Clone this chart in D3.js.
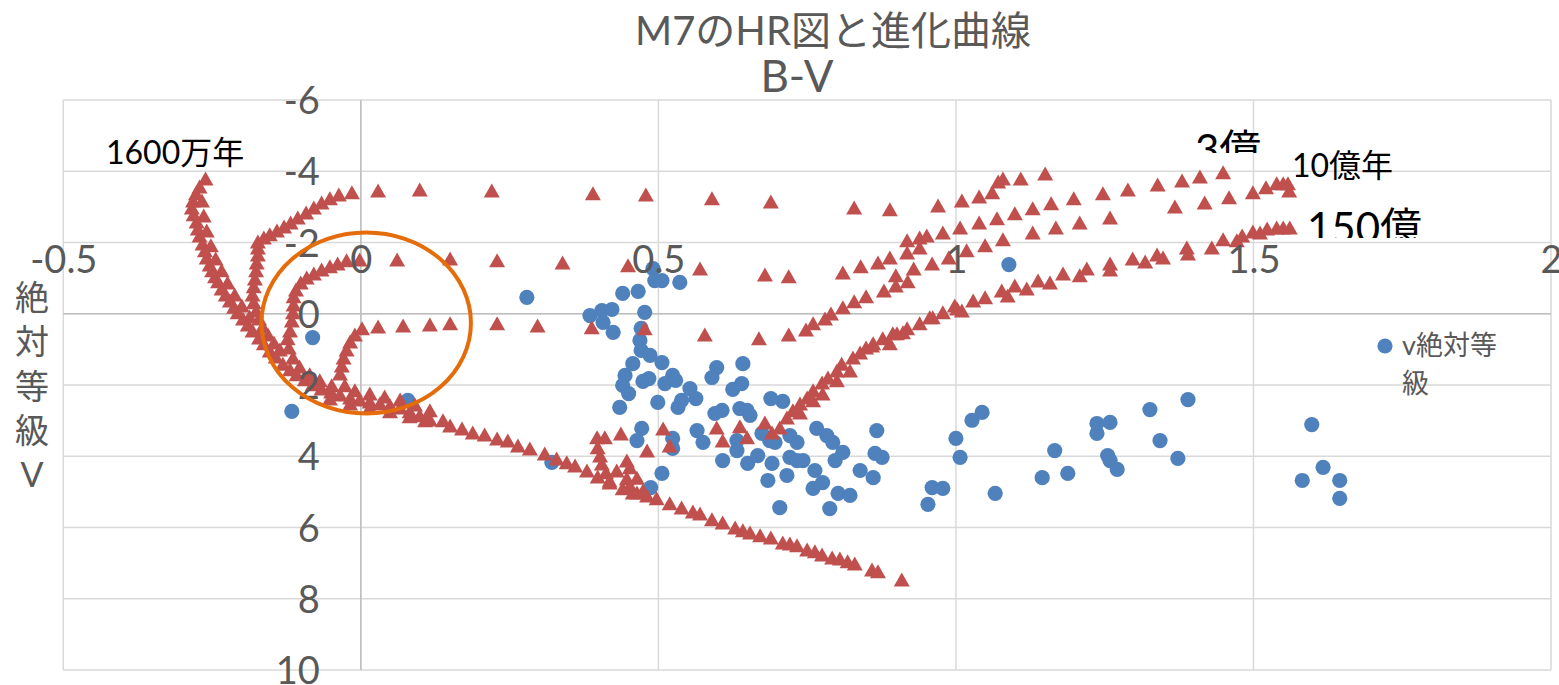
<!DOCTYPE html>
<html lang="ja">
<head>
<meta charset="utf-8">
<title>M7のHR図と進化曲線</title>
<script src="https://cdn.jsdelivr.net/npm/d3@7"></script>
<style>
  html, body { margin: 0; padding: 0; background: #ffffff; }
  svg { display: block; }
</style>
</head>
<body>
<svg id="chart" width="1559" height="685"></svg>
<script>
// ---- text ----
const titleText = "M7のHR図と進化曲線";
const xAxisTitle = "B-V";
const yAxisTitleChars = ["絶", "対", "等", "級", "V"];
const legendLines = ["v絶対等", "級"];
const ageLabels = ["1600万年", "3億", "10億年", "150億"];

// ---- axis ticks ----
const xTicks = [-0.5, 0, 0.5, 1, 1.5, 2];
const yTicks = [-6, -4, -2, 0, 2, 4, 6, 8, 10];

// ---- observed stars of M7: [B-V, absolute V magnitude] ----
const observed = [
  [-0.081,0.67],[-0.116,2.74],[0.079,2.43],[0.279,-0.46],[0.321,4.17],
  [0.385,0.05],[0.405,-0.09],[0.422,-0.12],[0.407,0.24],[0.424,0.52],
  [0.440,-0.57],[0.466,-0.63],[0.491,-1.27],[0.494,-0.93],[0.506,-0.93],[0.536,-0.88],
  [0.477,-0.04],[0.471,0.41],[0.469,0.75],[0.471,1.03],[0.486,1.17],[0.506,1.37],
  [0.457,1.40],[0.444,1.73],[0.440,2.01],[0.450,2.24],[0.474,1.90],[0.484,1.82],
  [0.511,1.96],[0.524,1.73],[0.529,1.87],[0.553,2.10],[0.563,2.38],[0.499,2.49],
  [0.435,2.63],[0.533,2.63],[0.539,2.43],[0.472,3.22],[0.464,3.56],[0.524,3.50],
  [0.524,3.78],[0.565,3.28],[0.575,3.61],[0.506,4.48],[0.487,4.88],
  [0.598,1.51],[0.590,1.79],[0.642,1.40],[0.625,2.12],[0.640,1.96],
  [0.595,2.80],[0.607,2.71],[0.637,2.66],[0.649,2.71],[0.654,2.85],
  [0.632,3.56],[0.632,3.84],[0.608,4.12],[0.650,4.20],[0.667,3.98],[0.691,4.20],
  [0.684,4.68],[0.716,4.54],[0.674,3.36],[0.687,3.56],[0.696,3.61],[0.689,2.38],
  [0.709,2.46],[0.721,3.42],[0.733,3.61],[0.721,4.03],[0.733,4.12],[0.743,4.12],
  [0.766,3.22],[0.783,3.42],[0.793,3.61],[0.810,3.89],[0.797,4.12],[0.763,4.40],
  [0.776,4.74],[0.760,4.90],[0.802,5.04],[0.822,5.10],[0.788,5.47],[0.704,5.44],
  [0.839,4.40],[0.861,4.60],[0.864,3.92],[0.876,4.03],[0.867,3.28],
  [0.960,4.88],[0.978,4.90],[0.953,5.35],[1.000,3.50],[1.007,4.03],[1.027,2.99],
  [1.044,2.77],[1.066,5.04],[1.145,4.60],[1.188,4.48],[1.166,3.84],[1.237,3.08],
  [1.259,3.05],[1.237,3.36],[1.255,3.98],[1.259,4.12],[1.271,4.37],[1.326,2.69],
  [1.343,3.56],[1.373,4.06],[1.390,2.41],[1.598,3.11],[1.617,4.31],[1.582,4.68],
  [1.645,4.68],[1.645,5.18],[1.089,-1.38]
];

// ---- evolution tracks (isochrones): [B-V, absolute V magnitude] ----
const iso1600man = [
  [-0.261,-3.80],[-0.271,-3.57],[-0.277,-3.38],[-0.282,-3.18],[-0.284,-2.98],[-0.281,-2.79],
  [-0.276,-2.59],[-0.274,-2.39],[-0.271,-2.20],[-0.266,-1.97],[-0.262,-1.78],[-0.259,-1.58],
  [-0.254,-1.38],[-0.250,-1.22],[-0.245,-1.05],[-0.240,-0.91],[-0.234,-0.71],[-0.227,-0.54],
  [-0.220,-0.37],[-0.213,-0.20],[-0.207,-0.04],[-0.198,0.13],[-0.190,0.30],[-0.182,0.47],
  [-0.171,0.67],[-0.163,0.83],[-0.153,1.03],[-0.143,1.20],[-0.131,1.40],[-0.119,1.56],
  [-0.108,1.70],[-0.094,1.84],[-0.081,1.98],[-0.066,2.10],[-0.050,2.18],[-0.035,2.27],
  [-0.018,2.35],[-0.002,2.41],[0.015,2.46],[0.032,2.52],[0.049,2.57],[0.066,2.63],
  [0.082,2.74],[0.099,2.85],[0.116,2.97],[0.138,2.99],[0.150,3.14],[0.170,3.22],
  [0.188,3.33],[0.208,3.39],[0.229,3.50],[0.247,3.56],[0.264,3.70],[0.284,3.78],
  [0.309,3.92],[0.329,4.06],[0.346,4.17],[0.360,4.26],[0.380,4.40],[0.398,4.57],
  [0.418,4.74],[0.440,4.90],[0.464,5.02],[0.481,5.10],[0.497,5.18],[0.519,5.32],
  [0.539,5.44],[0.558,5.55],[0.570,5.61],[0.590,5.77],[0.608,5.86],[0.629,6.00],
  [0.642,6.08],[0.654,6.14],[0.671,6.22],[0.689,6.28],[0.709,6.42],[0.721,6.45],
  [0.733,6.50],[0.750,6.62],[0.763,6.67],[0.775,6.76],[0.792,6.84],[0.805,6.87],
  [0.818,6.95],[0.830,7.01],[0.859,7.18],[0.869,7.23],[0.909,7.46],
  [-0.267,-3.18],[-0.264,-2.76],[-0.259,-2.34],[-0.252,-1.92],[-0.244,-1.55],
  [-0.234,-1.22],[-0.224,-0.88],[-0.212,-0.54],[-0.200,-0.23],[-0.187,0.08],
  [-0.052,2.38],[-0.018,2.52],[0.015,2.63],[0.049,2.74],[0.082,2.88],[0.108,2.99]
];

const isoUpper = [
  [-0.173,-2.03],[-0.163,-2.14],[-0.153,-2.23],[-0.141,-2.34],[-0.129,-2.45],[-0.118,-2.56],
  [-0.106,-2.70],[-0.092,-2.84],[-0.079,-2.98],[-0.066,-3.12],[-0.052,-3.24],[-0.037,-3.35],
  [-0.015,-3.41],[0.029,-3.46],[0.099,-3.49],[0.220,-3.46],[0.390,-3.38],[0.479,-3.35],
  [0.590,-3.24],[0.689,-3.15],[0.829,-2.98],[0.889,-2.93],[0.970,-3.04],[1.010,-3.18],
  [1.039,-3.29],[1.061,-3.41],[1.071,-3.71],[1.079,-3.80],[1.109,-3.80],[1.150,-3.94],
  [-0.173,-1.86],[-0.173,-1.66],[-0.175,-1.44],[-0.176,-1.22],[-0.178,-0.99],[-0.180,-0.77],
  [-0.182,-0.54],[-0.180,-0.32],[-0.176,-0.09],[-0.171,0.13],[-0.165,0.36],[-0.156,0.58],
  [-0.146,0.81],[-0.136,1.00]
];

const iso3oku = [
  [-0.049,2.01],[-0.069,1.87],[-0.086,1.70],[-0.103,1.48],
  [-0.114,1.23],[-0.121,0.95],[-0.123,0.69],[-0.119,0.47],[-0.116,0.19],[-0.114,-0.04],
  [-0.113,-0.26],[-0.113,-0.49],[-0.109,-0.68],[-0.101,-0.88],[-0.091,-1.02],[-0.079,-1.13],
  [-0.066,-1.24],[-0.052,-1.33],[-0.039,-1.41],[-0.024,-1.50],[-0.002,-1.52],[0.061,-1.52],
  [0.150,-1.55],[0.229,-1.50],[0.339,-1.44],[0.449,-1.36],[0.570,-1.27],[0.679,-1.10],
  [0.719,-1.05],[0.810,-1.16],[0.840,-1.33],[0.869,-1.44],[0.889,-1.58],[0.918,-1.72],
  [0.918,-2.06],[0.939,-1.86],[0.939,-2.14],[0.951,-2.20],[0.978,-2.28],[1.007,-2.42],
  [1.039,-2.56],[1.069,-2.68],[1.099,-2.82],[1.129,-2.96],[1.160,-3.10],[1.198,-3.24],
  [1.247,-3.38],[1.289,-3.49],[1.339,-3.63],[1.380,-3.74],[1.410,-3.85],[1.449,-3.97]
];

const iso10oku = [
  [0.116,2.71],[0.091,2.55],[0.066,2.41],[0.040,2.32],[0.015,2.24],[-0.010,2.15],[-0.027,2.01],
  [-0.035,1.68],[-0.032,1.45],[-0.029,1.23],[-0.024,1.00],[-0.018,0.78],[-0.010,0.58],
  [0.002,0.41],[0.029,0.36],[0.071,0.33],[0.116,0.30],[0.150,0.27],[0.229,0.27],
  [0.297,0.33],[0.388,0.38],[0.477,0.41],[0.578,0.58],[0.669,0.69],[0.719,0.58],
  [0.748,0.44],[0.760,0.27],[0.780,0.13],[0.790,-0.01],[0.810,-0.18],[0.829,-0.35],
  [0.849,-0.49],[0.879,-0.65],[0.899,-0.79],[0.919,-0.91],[0.899,-1.08],[0.929,-1.27],
  [0.960,-1.41],[0.988,-1.58],[1.018,-1.78],[1.049,-1.92],[1.079,-2.09],[1.129,-2.28],
  [1.168,-2.42],[1.208,-2.56],[1.259,-2.70],[1.368,-3.01],[1.418,-3.12],[1.459,-3.27],
  [1.499,-3.41],[1.521,-3.55],[1.539,-3.66],[1.550,-3.66],[1.558,-3.66],[1.560,-3.46]
];

const iso150oku = [
  [0.397,3.47],[0.410,3.47],[0.398,3.75],[0.402,3.98],[0.405,4.20],[0.412,4.45],[0.418,4.68],
  [0.437,3.36],[0.430,4.40],[0.447,4.12],[0.452,4.31],[0.447,4.62],[0.452,4.82],[0.464,4.60],
  [0.457,5.02],[0.481,3.84],[0.474,4.96],[0.508,3.22],[0.519,3.70],
  [0.598,3.19],[0.608,3.56],[0.637,3.16],[0.649,3.47],[0.679,3.05],[0.691,3.33],[0.704,3.19],
  [0.716,2.91],[0.726,2.71],[0.738,2.52],[0.750,2.35],[0.760,2.15],[0.775,1.93],[0.785,1.79],
  [0.800,1.59],[0.808,1.40],[0.827,1.23],[0.839,1.09],[0.859,0.89],[0.877,0.69],[0.901,0.55],
  [0.918,0.41],[0.939,0.27],[0.956,0.10],[0.978,-0.04],[1.002,-0.15],
  [0.738,2.77],[0.760,2.43],[0.776,2.24],[0.800,1.87],[0.822,1.59],[0.849,0.95],[0.861,0.83],
  [0.889,0.83],[0.894,0.55],[0.911,0.52],[0.961,0.10],[0.998,-0.23],
  [1.010,-0.09],[1.029,-0.37],[1.049,-0.46],[1.077,-0.65],[1.087,-0.51],[1.099,-0.79],
  [1.119,-0.71],[1.138,-0.93],[1.158,-0.88],[1.180,-1.13],[1.208,-1.08],[1.220,-1.27],
  [1.259,-1.41],[1.259,-1.24],[1.297,-1.55],[1.318,-1.47],[1.338,-1.66],[1.348,-1.58],
  [1.388,-1.86],[1.390,-1.69],[1.430,-1.86],[1.449,-2.09],[1.472,-2.06],[1.481,-2.20],
  [1.499,-2.31],[1.511,-2.28],[1.523,-2.39],[1.539,-2.42],[1.550,-2.42],[1.561,-2.42]
];

// ---- layout & style ----
const FONT = "Lato, 'Noto Sans CJK JP', sans-serif";
const TEXT_GRAY = "#595959";
const BLUE = "#4f81bd";
const RED = "#c0504d";
const ORANGE = "#e46c0a";

const svg = d3.select("#chart");
const plot = { left: 63.3, right: 1551, top: 100, bottom: 670 };

const x = d3.scaleLinear().domain([-0.5, 2]).range([plot.left, plot.right]);
const y = d3.scaleLinear().domain([-6, 10]).range([plot.top, plot.bottom]);

// gridlines
const grid = svg.append("g").attr("stroke", "#d9d9d9").attr("stroke-width", 1.5);
grid.selectAll("line.v").data(xTicks).join("line").attr("class", "v")
  .attr("x1", d => x(d)).attr("x2", d => x(d))
  .attr("y1", plot.top).attr("y2", plot.bottom);
grid.selectAll("line.h").data(yTicks).join("line").attr("class", "h")
  .attr("x1", plot.left).attr("x2", plot.right)
  .attr("y1", d => y(d)).attr("y2", d => y(d));

// axis lines crossing at (0, 0)
const axisLines = svg.append("g").attr("stroke", "#bfbfbf").attr("stroke-width", 1.5);
axisLines.append("line")
  .attr("x1", plot.left).attr("x2", plot.right)
  .attr("y1", y(0)).attr("y2", y(0));
axisLines.append("line")
  .attr("x1", x(0)).attr("x2", x(0))
  .attr("y1", plot.top).attr("y2", plot.bottom);

// observed stars
svg.append("g").selectAll("circle").data(observed).join("circle")
  .attr("cx", d => x(d[0])).attr("cy", d => y(d[1]))
  .attr("r", 7.6).attr("fill", BLUE);

// isochrone triangles
const triW = 16, triH = 14;
const triPath = `M0,${-triH / 2}L${triW / 2},${triH / 2}L${-triW / 2},${triH / 2}Z`;
const tracks = [iso1600man, isoUpper, iso3oku, iso10oku, iso150oku];
const trackG = svg.append("g");
tracks.forEach(track => {
  trackG.append("g").selectAll("path").data(track).join("path")
    .attr("d", triPath)
    .attr("transform", d => `translate(${x(d[0])},${y(d[1])})`)
    .attr("fill", RED);
});

// tick labels
const xAxis = d3.axisTop(x).tickValues(xTicks).tickFormat(d => String(d))
  .tickSize(0).tickPadding(41);
const gx = svg.append("g").attr("transform", `translate(0,${y(0)})`).call(xAxis);
gx.select(".domain").remove();
gx.attr("font-size", 38).attr("font-family", FONT);
gx.selectAll("text").attr("fill", TEXT_GRAY);

const yAxis = d3.axisLeft(y).tickValues(yTicks).tickFormat(d => String(d))
  .tickSize(0).tickPadding(41);
const gy = svg.append("g").attr("transform", `translate(${x(0)},0)`).call(yAxis);
gy.select(".domain").remove();
gy.attr("font-size", 38).attr("font-family", FONT);
gy.selectAll("text").attr("fill", TEXT_GRAY).attr("dy", "0.36em");

// title
svg.append("text")
  .attr("x", 833).attr("y", 45)
  .attr("text-anchor", "middle")
  .attr("font-family", FONT).attr("font-size", 40).attr("fill", TEXT_GRAY)
  .text(titleText);
svg.append("text")
  .attr("x", 797).attr("y", 92)
  .attr("text-anchor", "middle")
  .attr("font-family", FONT).attr("font-size", 44).attr("fill", TEXT_GRAY)
  .text(xAxisTitle);

// vertical axis title, one character per line
svg.append("g").selectAll("text").data(yAxisTitleChars).join("text")
  .attr("x", 32).attr("y", (d, i) => 310 + i * 44.3)
  .attr("text-anchor", "middle")
  .attr("font-family", FONT).attr("font-size", 34).attr("fill", TEXT_GRAY)
  .text(d => d);

// legend
svg.append("circle").attr("cx", 1385).attr("cy", 346).attr("r", 7.6).attr("fill", BLUE);
svg.append("g").selectAll("text").data(legendLines).join("text")
  .attr("x", 1402).attr("y", (d, i) => 355 + i * 38)
  .attr("font-family", FONT).attr("font-size", 27).attr("fill", TEXT_GRAY)
  .text(d => d);

// orange ring around the young turn-off region
const ring = { bv: 0.009, mv: 0.26, rBv: 0.176, rMv: 2.54 };
svg.append("ellipse")
  .attr("cx", x(ring.bv)).attr("cy", y(ring.mv))
  .attr("rx", x(ring.bv + ring.rBv) - x(ring.bv))
  .attr("ry", y(ring.mv + ring.rMv) - y(ring.mv))
  .attr("fill", "none").attr("stroke", ORANGE).attr("stroke-width", 4);

// age labels (text boxes; two of them clip their lower edge)
const defs = svg.append("defs");
defs.append("clipPath").attr("id", "clip3oku")
  .append("rect").attr("x", 1180).attr("y", 110).attr("width", 110).attr("height", 43);
defs.append("clipPath").attr("id", "clip150oku")
  .append("rect").attr("x", 1295).attr("y", 190).attr("width", 160).attr("height", 48);

const ages = svg.append("g").attr("font-family", FONT).attr("fill", "#000");
ages.append("text").attr("x", 106).attr("y", 164).attr("font-size", 32).text(ageLabels[0]);
ages.append("text").attr("x", 1195).attr("y", 165).attr("font-size", 42)
  .attr("clip-path", "url(#clip3oku)").text(ageLabels[1]);
ages.append("text").attr("x", 1292).attr("y", 177).attr("font-size", 32).text(ageLabels[2]);
ages.append("text").attr("x", 1307).attr("y", 243).attr("font-size", 42)
  .attr("clip-path", "url(#clip150oku)").text(ageLabels[3]);
</script>
</body>
</html>
